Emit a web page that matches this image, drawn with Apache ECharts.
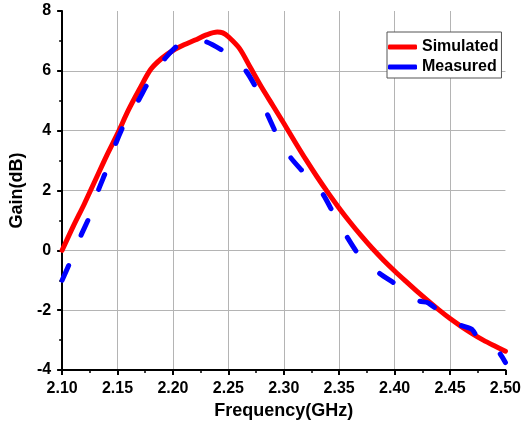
<!DOCTYPE html>
<html>
<head>
<meta charset="utf-8">
<script src="https://cdn.jsdelivr.net/npm/echarts@6/dist/echarts.min.js"></script>
<style>
  html, body { margin: 0; padding: 0; background: #fff; }
  #gainChart { width: 524px; height: 434px; }
</style>
</head>
<body>
<div id="gainChart"></div>
<script>
// frequency (GHz) / gain (dB)
const simFreq = [2.10, 2.11, 2.12, 2.13, 2.14, 2.15, 2.16, 2.17, 2.18, 2.19, 2.20, 2.21, 2.22, 2.23, 2.24, 2.245, 2.25, 2.26, 2.27, 2.28, 2.29, 2.30, 2.31, 2.32, 2.33, 2.34, 2.35, 2.36, 2.37, 2.38, 2.39, 2.40, 2.41, 2.42, 2.43, 2.44, 2.45, 2.46, 2.47, 2.48, 2.49, 2.50];
const simGain = [0.0, 0.8, 1.55, 2.35, 3.15, 3.9, 4.7, 5.4, 6.05, 6.42, 6.68, 6.87, 7.03, 7.2, 7.3, 7.27, 7.14, 6.75, 6.1, 5.45, 4.85, 4.25, 3.63, 3.03, 2.46, 1.92, 1.41, 0.93, 0.48, 0.06, -0.33, -0.69, -1.03, -1.36, -1.68, -1.99, -2.28, -2.54, -2.78, -3.0, -3.19, -3.37];

const measFreq = [2.100, 2.108, 2.117, 2.125, 2.133, 2.140, 2.1485, 2.156, 2.169, 2.178, 2.193, 2.206, 2.218, 2.230, 2.2474, 2.256, 2.266, 2.2757, 2.2855, 2.2936, 2.3064, 2.3187, 2.327, 2.3358, 2.3448, 2.3574, 2.3679, 2.3864, 2.4023, 2.4218, 2.430, 2.4398, 2.4593, 2.4697, 2.475, 2.4943, 2.500];
const measGain = [-1.0, -0.33, 0.5, 1.15, 2.04, 2.68, 3.58, 4.22, 5.02, 5.63, 6.42, 6.9, 7.0, 6.97, 6.62, 6.33, 5.99, 5.38, 4.52, 3.88, 3.09, 2.57, 2.2, 1.85, 1.24, 0.43, -0.16, -0.77, -1.16, -1.69, -1.75, -2.02, -2.5, -2.64, -2.91, -3.42, -3.75];

const xTicks = { min: 2.10, max: 2.50, step: 0.05 };
const yTicks = { min: -4, max: 8, step: 2 };

const FONT = "Liberation Sans";

const zip = (xs, ys) => xs.map((x, i) => [x, ys[i]]);

const chart = echarts.init(document.getElementById("gainChart"));

const axisCommon = {
  type: "value",
  nameLocation: "middle",
  nameTextStyle: { fontFamily: FONT, fontSize: 18, fontWeight: "bold", color: "#000" },
  axisLine: { show: true, onZero: false, lineStyle: { color: "#000", width: 2 } },
  axisTick: { show: true, inside: false, length: 5, lineStyle: { color: "#000", width: 2 } },
  minorTick: { show: true, splitNumber: 2, length: 3, lineStyle: { color: "#000", width: 1.5 } },
  splitLine: {
    show: true,
    showMinLine: false,
    showMaxLine: false,
    lineStyle: { color: "#b4b4b4", width: 1 },
  },
  axisLabel: { fontFamily: FONT, fontSize: 16, fontWeight: "bold", color: "#000", margin: 11 },
};

const option = {
  animation: false,
  backgroundColor: "#fff",
  grid: { left: 62, right: 17, top: 11, bottom: 64, containLabel: false },
  legend: {
    left: 387,
    top: 32,
    orient: "vertical",
    padding: [7, 3, 3, 1],
    itemWidth: 29,
    itemHeight: 5,
    itemGap: 4,
    backgroundColor: "#fff",
    borderColor: "#555",
    borderWidth: 1,
    borderRadius: 0,
    textStyle: { fontFamily: FONT, fontSize: 16, fontWeight: "bold", color: "#000" },
    data: [
      { name: "Simulated", icon: "roundRect" },
      { name: "Measured", icon: "roundRect" },
    ],
  },
  xAxis: Object.assign({}, axisCommon, {
    name: "Frequency(GHz)",
    nameGap: 32,
    min: xTicks.min,
    max: xTicks.max,
    interval: xTicks.step,
    axisLabel: Object.assign({}, axisCommon.axisLabel, {
      formatter: (v) => v.toFixed(2),
    }),
  }),
  yAxis: Object.assign({}, axisCommon, {
    name: "Gain(dB)",
    nameGap: 34,
    min: yTicks.min,
    max: yTicks.max,
    interval: yTicks.step,
  }),
  series: [
    {
      name: "Simulated",
      type: "line",
      data: zip(simFreq, simGain),
      symbol: "none",
      smooth: 0.3,
      lineStyle: { color: "#ff0000", width: 5, cap: "round", join: "round" },
      itemStyle: { color: "#ff0000" },
      z: 3,
    },
    {
      name: "Measured",
      type: "line",
      data: zip(measFreq, measGain),
      symbol: "none",
      smooth: 0.2,
      lineStyle: { color: "#0000ff", width: 5, type: [16, 33], cap: "round", join: "round" },
      itemStyle: { color: "#0000ff" },
      z: 4,
    },
  ],
};

chart.setOption(option);
</script>
</body>
</html>
